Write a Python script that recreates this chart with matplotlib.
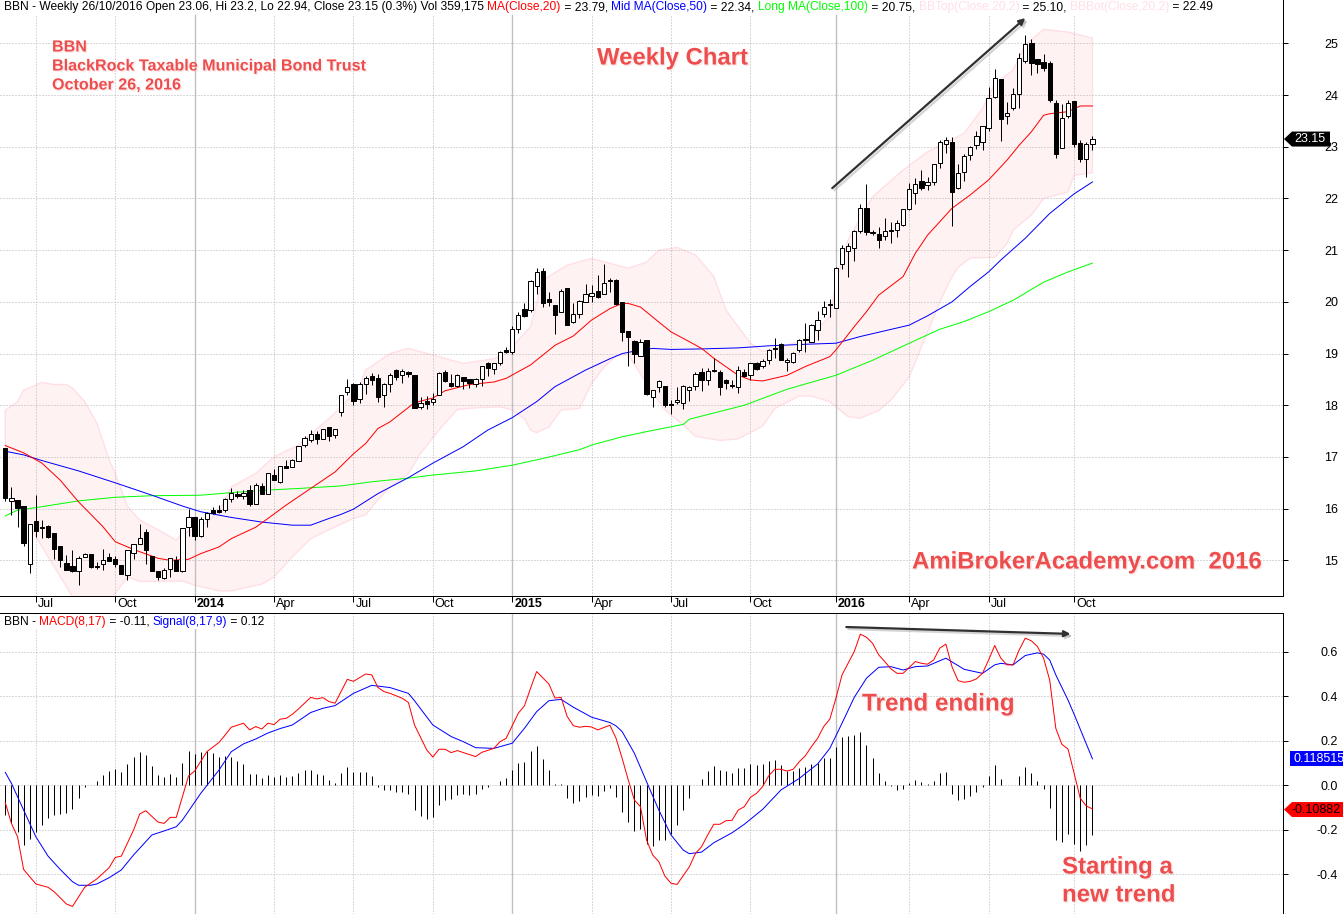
import matplotlib
matplotlib.use('Agg')
import matplotlib.pyplot as plt
import matplotlib.patheffects as pe
from matplotlib.patches import Polygon
from matplotlib.transforms import IdentityTransform
import numpy as np

W, H = 1343, 914
plt.rcParams['font.family'] = ['Liberation Sans', 'DejaVu Sans']

# weekly candles
opens = [17.18,16.14,16.16,16.05,14.92,15.76,15.64,15.66,15.52,15.27,14.94,14.89,14.79,15.06,15.13,14.9,14.92,15.06,15.02,14.91,
         14.71,15.15,15.31,15.55,15.08,14.8,14.66,14.84,15.0,14.8,15.65,15.84,15.48,15.79,15.97,15.97,15.97,16.19,16.29,16.24,
         16.37,16.09,16.44,16.29,16.65,16.51,16.82,16.81,16.93,17.24,17.33,17.44,17.34,17.57,17.43,17.87,18.26,18.42,18.12,18.42,
         18.56,18.52,18.2,18.42,18.69,18.58,18.65,18.58,17.96,18.09,18.07,18.2,18.65,18.44,18.38,18.54,18.5,18.41,18.5,18.81,
         18.7,18.82,19.06,19.04,19.48,19.87,19.85,20.3,20.59,20.05,19.93,19.81,20.26,19.61,19.77,20.0,20.12,20.22,20.16,20.43,
         20.43,20.0,19.43,19.24,18.96,19.26,18.16,18.36,18.37,18.02,18.06,18.04,18.29,18.38,18.64,18.48,18.68,18.64,18.49,18.4,
         18.35,18.64,18.58,18.81,18.75,18.87,19.11,19.18,18.83,18.84,19.06,19.27,19.23,19.46,19.76,19.95,19.89,20.73,20.98,21.05,
         21.38,21.81,21.33,21.31,21.27,21.39,21.4,21.48,21.79,22.1,22.34,22.27,22.32,22.69,23.05,23.09,22.21,22.52,22.85,23.04,
         23.1,23.37,23.97,24.32,23.6,23.75,24.03,24.66,25.0,24.69,24.65,24.63,23.84,22.97,23.6,23.88,23.08,22.77,23.06]
closes = [16.2,16.2,16.01,15.34,15.71,15.57,15.62,15.46,15.22,15.01,14.82,14.79,15.04,15.13,14.88,14.87,15.0,14.99,14.92,14.74,
          15.2,15.31,15.44,15.2,14.8,14.68,14.82,15.04,14.8,15.62,15.84,15.48,15.79,15.91,15.91,15.93,16.19,16.31,16.25,16.31,
          16.09,16.45,16.29,16.68,16.55,16.82,16.78,16.95,17.22,17.36,17.44,17.34,17.55,17.41,17.55,18.19,18.36,18.09,18.42,18.52,
          18.49,18.16,18.42,18.58,18.55,18.67,18.6,17.95,18.05,18.03,18.13,18.63,18.47,18.37,18.58,18.47,18.43,18.51,18.75,18.73,
          18.81,19.04,19.03,19.48,19.74,19.73,20.41,20.57,19.98,20.0,19.75,20.22,19.56,19.77,20.01,20.16,20.17,20.1,20.37,20.41,
          19.96,19.42,19.32,19.0,19.23,18.22,18.3,18.46,18.01,18.0,18.1,18.38,18.36,18.61,18.48,18.67,18.66,18.36,18.44,18.38,
          18.69,18.57,18.81,18.71,18.85,19.06,19.08,18.87,18.87,19.02,19.27,19.29,19.55,19.64,19.91,19.93,20.65,21.05,21.09,21.38,
          21.81,21.36,21.36,21.2,21.38,21.38,21.52,21.79,22.18,22.29,22.21,22.32,22.66,23.1,23.14,22.12,22.5,22.82,23.0,23.2,
          23.41,23.95,24.34,23.54,23.66,24.03,24.71,24.98,24.63,24.61,24.53,23.9,22.86,23.55,23.84,23.06,22.77,23.06,23.15]
highs = [17.18,16.41,16.16,16.05,15.71,16.26,15.78,15.68,15.52,15.27,15.11,15.2,15.08,15.15,15.13,14.97,15.21,15.15,15.09,14.91,
         15.2,15.31,15.7,15.6,15.08,14.8,14.86,15.05,15.08,15.62,15.99,15.84,15.83,15.94,16.04,16.07,16.2,16.39,16.35,16.37,
         16.45,16.49,16.49,16.68,16.76,16.82,16.94,16.97,17.22,17.4,17.52,17.5,17.55,17.57,17.55,18.19,18.5,18.43,18.45,18.56,
         18.63,18.61,18.43,18.62,18.71,18.71,18.67,18.58,18.16,18.18,18.23,18.65,18.69,18.61,18.6,18.54,18.5,18.53,18.75,18.83,
         18.82,19.05,19.12,19.53,19.8,19.98,20.43,20.65,20.66,20.2,19.93,20.24,20.26,19.98,20.03,20.34,20.32,20.52,20.73,20.47,
         20.45,20.0,19.43,19.27,19.29,19.26,18.3,18.49,18.37,18.1,18.36,18.4,18.37,18.65,18.73,18.73,18.91,18.69,18.5,18.49,
         18.75,18.71,18.81,18.84,18.89,19.08,19.3,19.2,18.91,19.04,19.29,19.6,19.57,19.83,20.02,20.06,20.67,21.1,21.13,21.39,
         21.89,22.29,21.39,21.45,21.62,21.55,21.58,21.79,22.3,22.39,22.55,22.42,22.66,23.13,23.18,23.18,22.66,22.86,23.01,23.3,
         23.41,24.15,24.5,24.32,23.86,24.13,24.81,25.17,25.08,24.69,24.79,24.66,23.9,23.83,23.9,23.88,23.13,23.1,23.2]
lows = [16.15,15.88,15.65,15.28,14.76,15.46,15.44,15.44,15.02,14.88,14.82,14.78,14.53,15.06,14.86,14.84,14.81,14.99,14.88,14.74,
        14.62,15.03,15.31,14.92,14.8,14.62,14.64,14.68,14.8,14.78,15.47,15.4,15.46,15.65,15.89,15.91,15.94,16.13,16.2,16.18,
        16.05,16.09,16.28,16.29,16.55,16.5,16.78,16.8,16.93,17.2,17.29,17.26,17.34,17.3,17.37,17.8,18.19,18.0,18.05,18.22,
        18.4,18.07,17.97,18.25,18.49,18.43,18.55,17.94,17.93,17.93,18.0,18.19,18.45,18.36,18.36,18.32,18.34,18.36,18.38,18.56,
        18.6,18.78,19.01,19.0,19.4,19.71,19.8,20.15,19.9,19.92,19.38,19.8,19.56,19.59,19.68,20.0,20.0,20.08,20.15,20.19,
        19.94,19.25,18.76,18.81,18.96,18.2,17.97,18.26,17.97,17.84,18.02,17.93,18.09,18.29,18.28,18.39,18.65,18.2,18.32,18.33,
        18.23,18.55,18.48,18.69,18.73,18.8,18.91,18.87,18.66,18.81,19.04,19.04,19.22,19.26,19.71,19.71,19.89,20.63,20.49,20.8,
        21.34,21.29,21.29,21.05,21.2,21.14,21.26,21.47,21.78,21.9,22.16,22.16,22.26,22.59,22.88,21.47,22.19,22.34,22.75,22.95,
        22.94,23.31,23.95,23.12,23.44,23.72,23.75,24.62,24.39,24.43,24.47,23.87,22.79,22.97,23.55,23.0,22.7,22.42,22.94]

ma20_i = [0,3,6,9,12,16,18,21,25,27,30,32,35,37,41,43,46,50,54,57,59,61,63,67,70,72,76,80,82,86,88,90,93,96,99,101,102,104,107,109,112,114,116,120,122,124,128,131,135,136,139,141,143,147,149,151,154,155,158,161,164,166,168,170,171,174,176,178]
ma20 = [17.22,17.08,16.88,16.55,16.13,15.65,15.36,15.21,15.04,15.0,15.02,15.13,15.26,15.42,15.64,15.81,16.07,16.39,16.71,17.06,17.26,17.55,17.68,18.05,18.14,18.28,18.4,18.45,18.52,18.78,18.97,19.16,19.34,19.65,19.87,19.97,19.97,19.9,19.61,19.42,19.23,19.1,18.91,18.58,18.49,18.47,18.58,18.75,18.94,19.07,19.52,19.81,20.13,20.49,20.94,21.29,21.68,21.81,22.07,22.36,22.74,23.03,23.29,23.61,23.64,23.68,23.79,23.79]
ma50_i = [0,3,6,12,18,24,29,32,37,42,47,50,53,55,57,61,66,70,75,79,83,87,90,95,99,101,104,106,109,114,120,125,131,136,140,144,148,151,155,158,161,163,167,171,175,178]
ma50 = [17.11,17.04,16.93,16.73,16.5,16.26,16.05,15.94,15.83,15.74,15.68,15.68,15.81,15.89,15.99,16.29,16.6,16.88,17.2,17.52,17.76,18.07,18.36,18.68,18.9,19.0,19.07,19.1,19.08,19.09,19.11,19.15,19.18,19.2,19.33,19.44,19.55,19.73,20.0,20.3,20.58,20.81,21.23,21.71,22.09,22.32]
ma100_i = [0,2,5,12,18,24,32,37,43,48,55,60,66,70,77,83,88,94,96,101,105,111,112,121,128,136,142,148,153,157,161,165,170,174,178]
ma100 = [15.86,15.97,16.02,16.15,16.22,16.25,16.26,16.31,16.36,16.39,16.44,16.52,16.59,16.65,16.73,16.84,16.97,17.14,17.23,17.39,17.49,17.63,17.73,18.0,18.31,18.58,18.87,19.2,19.47,19.62,19.81,20.03,20.38,20.58,20.75]
bbtop_i = [0,2,3,5,6,8,10,11,13,15,17,18,20,22,25,28,29,32,35,37,41,44,48,50,53,55,58,59,63,66,70,75,80,82,86,88,92,96,102,105,107,110,113,116,118,122,124,131,135,136,138,142,147,151,157,160,162,165,167,170,174,176,178]
bbtop = [17.9,18.07,18.29,18.39,18.44,18.4,18.4,18.33,18.07,17.65,16.95,16.68,16.04,15.78,15.59,15.39,15.52,15.65,15.94,16.42,16.68,17.0,17.23,17.44,17.74,17.97,18.36,18.68,19.0,19.1,18.97,18.81,18.9,19.0,19.52,20.42,20.71,20.84,20.65,20.77,21.0,21.05,20.91,20.49,19.84,19.2,19.04,19.26,19.71,20.36,21.2,22.03,22.55,22.9,23.26,23.74,24.22,24.48,24.97,25.27,25.22,25.16,25.1]
bbbot_i = [0,2,5,8,11,13,16,18,20,22,29,31,35,37,42,44,47,50,54,57,59,61,63,66,68,71,74,77,81,83,85,86,87,89,91,94,96,98,100,102,105,108,111,113,117,120,124,126,130,132,135,138,140,143,145,148,150,152,153,155,156,158,162,164,165,168,170,174,175,178]
bbbot = [16.43,16.0,15.46,14.88,14.3,14.1,14.05,14.36,14.68,14.59,14.6,14.52,14.41,14.41,14.54,14.68,15.07,15.42,15.65,15.81,15.88,16.17,16.42,16.68,17.07,17.52,17.92,17.95,17.97,17.91,17.74,17.52,17.47,17.58,17.91,17.94,18.42,18.74,18.95,18.98,18.42,17.91,17.62,17.4,17.32,17.35,17.6,17.94,18.18,18.18,18.07,17.78,17.75,17.9,18.1,18.55,19.13,19.7,20.0,20.49,20.67,20.85,20.86,21.13,21.39,21.68,22.0,22.13,22.45,22.5]

macd_i = [0,1,2,3,5,7,8,10,11,13,15,17,18,19,21,22,23,25,26,27,28,29,30,31,33,35,36,37,39,40,41,42,43,44,45,46,47,48,50,51,52,53,54,56,57,59,60,61,62,63,65,66,67,69,70,71,72,
          73,74,77,78,80,81,82,84,85,86,87,89,90,91,92,93,94,95,96,97,99,100,101,102,103,104,105,106,107,108,109,110,112,113,114,115,116,117,118,119,120,121,122,123,124,125,126,127,128,129,130,131,132,133,134,135,136,137,139,140,141,142,143,144,145,146,
          147,149,150,151,152,153,154,155,156,157,158,159,160,161,162,163,164,165,166,167,168,169,170,171,172,173,174,175,176,177,178]
macd = [-0.078,-0.171,-0.231,-0.378,-0.443,-0.458,-0.478,-0.533,-0.544,-0.458,-0.42,-0.37,-0.324,-0.318,-0.201,-0.129,-0.114,-0.165,-0.171,-0.144,-0.144,-0.051,0.042,0.064,0.151,0.193,0.226,0.261,0.279,0.249,0.264,0.253,0.279,0.273,0.297,0.301,0.319,0.343,0.395,0.388,0.394,0.376,0.369,0.476,0.467,0.5,0.496,0.44,0.421,0.413,0.391,0.372,0.271,0.159,0.127,0.162,0.162,
        0.147,0.156,0.129,0.148,0.166,0.196,0.211,0.324,0.357,0.436,0.511,0.455,0.392,0.395,0.309,0.268,0.261,0.265,0.262,0.249,0.27,0.211,0.121,0.024,-0.066,-0.096,-0.246,-0.313,-0.343,-0.408,-0.44,-0.445,-0.366,-0.306,-0.276,-0.223,-0.175,-0.175,-0.159,-0.157,-0.111,-0.096,-0.054,-0.036,-0.006,0.043,0.072,0.072,0.064,0.072,0.106,0.133,0.174,0.211,0.264,0.297,0.391,0.496,0.601,0.679,0.665,0.638,0.586,0.556,0.523,0.503,
        0.503,0.556,0.548,0.544,0.563,0.616,0.634,0.533,0.47,0.463,0.467,0.478,0.503,0.563,0.628,0.571,0.541,0.541,0.608,0.661,0.649,0.623,0.571,0.473,0.256,0.184,0.163,0.054,-0.058,-0.093,-0.106]
signal_i = [0,1,3,5,7,9,11,12,14,15,17,19,21,23,24,26,28,29,32,35,37,39,41,43,45,47,50,52,54,57,60,63,66,67,70,73,
            75,77,80,83,85,87,89,91,93,96,99,100,101,103,105,107,109,111,112,114,116,119,121,124,127,130,133,135,137,139,141,143,145,
            147,149,151,154,157,160,162,163,165,167,169,170,171,172,174,175,178]
signal = [0.058,0.009,-0.111,-0.231,-0.318,-0.378,-0.433,-0.449,-0.449,-0.443,-0.415,-0.38,-0.313,-0.253,-0.223,-0.205,-0.186,-0.156,-0.036,0.069,0.151,0.186,0.208,0.235,0.255,0.271,0.327,0.346,0.358,0.413,0.449,0.439,0.413,0.38,0.271,0.219,
          0.196,0.169,0.166,0.189,0.256,0.331,0.38,0.386,0.351,0.306,0.282,0.267,0.241,0.144,0.016,-0.111,-0.223,-0.291,-0.307,-0.3,-0.258,-0.213,-0.175,-0.108,-0.021,0.031,0.096,0.166,0.279,0.395,0.481,0.53,0.533,
          0.518,0.533,0.536,0.571,0.521,0.503,0.541,0.548,0.541,0.583,0.595,0.589,0.563,0.496,0.383,0.319,0.119]
hist = [-0.133,-0.168,-0.208,-0.268,-0.241,-0.208,-0.178,-0.147,-0.133,-0.129,-0.123,-0.106,-0.058,-0.006,0.001,0.019,0.045,0.064,0.073,0.06,
        0.096,0.127,0.15,0.136,0.087,0.046,0.037,0.051,0.037,0.1,0.154,0.141,0.15,0.154,0.147,0.127,0.132,0.127,0.109,0.096,
        0.051,0.051,0.033,0.046,0.037,0.046,0.037,0.042,0.055,0.069,0.069,0.051,0.046,0.024,0.01,0.055,0.082,0.061,0.06,0.06,
        0.042,-0.006,-0.021,-0.021,-0.03,-0.03,-0.039,-0.111,-0.138,-0.151,-0.142,-0.088,-0.066,-0.06,-0.043,-0.039,-0.042,-0.039,-0.016,-0.006,
        0.001,0.019,0.033,0.069,0.1,0.105,0.154,0.177,0.118,0.069,0.006,0.006,-0.057,-0.079,-0.07,-0.052,-0.043,-0.048,-0.025,-0.012,
        -0.052,-0.12,-0.165,-0.205,-0.196,-0.264,-0.273,-0.246,-0.246,-0.219,-0.178,-0.111,-0.057,0.001,0.028,0.064,0.087,0.069,0.064,0.055,
        0.078,0.078,0.096,0.091,0.096,0.109,0.114,0.091,0.064,0.064,0.078,0.082,0.096,0.1,0.123,0.123,0.172,0.217,0.222,0.226,
        0.24,0.181,0.123,0.055,0.019,-0.003,-0.021,-0.016,0.009,0.024,0.015,0.006,0.019,0.055,0.06,-0.039,-0.066,-0.061,-0.048,-0.03,
        -0.009,0.042,0.091,0.028,0.001,0.002,0.042,0.082,0.055,0.019,-0.016,-0.102,-0.246,-0.255,-0.219,-0.264,-0.295,-0.268,-0.223]

month_i = [5,18,31,44,57,70,83,96,109,122,136,148,161,175]
month_lbl = ['Jul','Oct','2014','Apr','Jul','Oct','2015','Apr','Jul','Oct','2016','Apr','Jul','Oct']
price_ticks = [15,16,17,18,19,20,21,22,23,24,25]
macd_ticks = [-0.4,-0.2,0.0,0.2,0.4,0.6]

up_arrow = ((135.4,22.2),(167,25.49))
flat_arrow = ((137.7,0.711),(174.4,0.68))

BLUE, RED, LIME = '#0000ff', '#ff0000', '#00ff00'
PINK = '#ffdfe6'
NOTE = '#ee4d4d'
GRID = '#b4b4b4'
THIN = 0.72
CURVE = 0.72

def fx(x): return x/W
def fy(y): return 1-y/H

fig = plt.figure(figsize=(W/100,H/100), dpi=100)
ax = fig.add_axes([0, fy(596), fx(1283), 596/H])
ax2 = fig.add_axes([0, 0, fx(1283), (914-613)/H])
xlim = (-0.868, 209.2)
ax.set_xlim(*xlim)
ax2.set_xlim(*xlim)
ax.set_ylim(14.31, 25.84)
ax2.set_ylim(-0.578, 0.774)

xs = np.arange(len(closes))

for a, top in ((ax, 1-15/596), (ax2, 1.0)):
    for i, lbl in zip(month_i, month_lbl):
        year = lbl.startswith('20')
        a.axvline(i, ymax=top, color='#c0c0c0' if year else GRID, lw=1.0 if year else THIN,
                  ls='-' if year else (0,(1,2)), zorder=1.5)
    for s in ('left','top'):
        a.spines[s].set_visible(False)
    a.spines['right'].set_linewidth(THIN)
    a.spines['bottom'].set_linewidth(THIN)
    a.yaxis.tick_right()
    a.tick_params(axis='y', length=3.6, width=THIN, pad=0, labelsize=9)
ax2.spines['bottom'].set_visible(False)
ax2.spines['top'].set_visible(True)
ax2.spines['top'].set_linewidth(THIN)

for p in price_ticks:
    ax.axhline(p, color=GRID, lw=THIN, ls=(0,(1,2)), zorder=1.5)
for q in macd_ticks:
    ax2.axhline(q, color=GRID, lw=THIN, ls=(0,(1,2)), zorder=1.5)

# bollinger band
band = np.column_stack([bbtop_i + bbbot_i[::-1], bbtop + bbbot[::-1]])
ax.add_patch(Polygon(band, closed=True, facecolor='#fff2f3', edgecolor=PINK, lw=1.0, zorder=1))

ax.plot(ma100_i, ma100, color=LIME, lw=CURVE, zorder=2)
ax.plot(ma50_i, ma50, color=BLUE, lw=CURVE, zorder=2)
ax.plot(ma20_i, ma20, color=RED, lw=CURVE, zorder=2)

# candles
ax.vlines(xs, lows, highs, color='k', lw=THIN, zorder=3)
o = np.array(opens)
c = np.array(closes)
ax.bar(xs, np.abs(c-o), bottom=np.minimum(o,c), width=0.7,
       color=['white' if cc >= oo else 'black' for oo, cc in zip(o,c)],
       edgecolor='k', lw=THIN, zorder=4)

ax.set_yticks(price_ticks)
ax.set_yticklabels([str(p) for p in price_ticks])
ax.set_xticks(month_i)
ax.set_xticklabels([])
ax.tick_params(axis='x', length=4.3, width=THIN, top=False)
ax2.set_xticks([])
ax2.set_yticks(macd_ticks)
ax2.set_yticklabels(['%.1f' % q for q in macd_ticks])

for a in (ax, ax2):
    for t in a.get_yticklabels():
        t.set_ha('right')
        t.set_x(1.0 + (1333-1283)/1283)
        t.set_fontsize(9)

for i, lbl in zip(month_i, month_lbl):
    px = ax.transData.transform((i, 0))[0]
    fig.text(fx(px+2), fy(604), lbl, fontsize=9, va='center', ha='left',
             fontweight='bold' if lbl.startswith('20') else 'normal')

# macd panel
ax2.vlines(xs, 0, hist, color='k', lw=THIN, zorder=2)
ax2.plot(signal_i, signal, color=BLUE, lw=CURVE, zorder=3)
ax2.plot(macd_i, macd, color=RED, lw=CURVE, zorder=3)

# drawn arrows with their soft shadow
for a, (start, end) in ((ax, up_arrow), (ax2, flat_arrow)):
    a.annotate('', xy=end, xytext=start, zorder=5,
               arrowprops=dict(arrowstyle='-|>', color='#303030', lw=1.6, mutation_scale=9, shrinkA=0, shrinkB=0,
                               path_effects=[pe.SimpleLineShadow(offset=(1.5,-1.5), shadow_color='#a0a0a0', alpha=0.45), pe.Normal()]))

renderer = fig.canvas.get_renderer()

def text_width(s, size):
    t = fig.text(0, 0, '.'+s+'.', fontsize=size)
    w = t.get_window_extent(renderer).width
    t.set_text('..')
    w -= t.get_window_extent(renderer).width
    t.remove()
    return w

def header(x, y, parts, size):
    for s, col in parts:
        fig.text(fx(x), fy(y), s, color=col, fontsize=size, va='center', ha='left',
                 bbox=dict(facecolor='white', edgecolor='none', pad=0.5), zorder=10)
        x += text_width(s, size)

header(4, 7, [('BBN - Weekly 26/10/2016 Open 23.06, Hi 23.2, Lo 22.94, Close 23.15 (0.3%) Vol 359,175 ', 'k'),
              ('MA(Close,20)', RED), (' = 23.79, ', 'k'),
              ('Mid MA(Close,50)', BLUE), (' = 22.34, ', 'k'),
              ('Long MA(Close,100)', LIME), (' = 20.75, ', 'k'),
              ('BBTop(Close,20,2)', PINK), (' = 25.10, ', 'k'),
              ('BBBot(Close,20,2)', PINK), (' = 22.49', 'k')], 8.68)
header(4, 622, [('BBN - ', 'k'), ('MACD(8,17)', RED), (' = -0.11, ', 'k'),
                ('Signal(8,17,9)', BLUE), (' = 0.12', 'k')], 8.68)

# notes typed on the chart
shadow = [pe.withSimplePatchShadow(offset=(1,-1), shadow_rgbFace='#f4a0a0', alpha=0.25)]
notes = [(52,47,'BBN',11.6), (52,66,'BlackRock Taxable Municipal Bond Trust',11.6), (52,85,'October 26, 2016',11.6),
         (597,58,'Weekly Chart',17.2), (912,562,'AmiBrokerAcademy.com  2016',17.25),
         (862,704,'Trend ending',17.5), (1062,867,'Starting a',17.3), (1062,895,'new trend',17.3)]
for x, y, s, size in notes:
    fig.text(fx(x), fy(y), s, color=NOTE, fontsize=size, fontweight='bold', va='center', ha='left', path_effects=shadow, zorder=9)

# value tags on the axis
def tag(a, val, txt, face, col, x0, pointed, x1, inset):
    y = a.transData.transform((0, val))[1]
    if pointed:
        pts = [(x0,y),(x0+8,y+7.5),(x1,y+7.5),(x1,y-7.5),(x0+8,y-7.5)]
    else:
        pts = [(x0,y+7.5),(x1,y+7.5),(x1,y-7.5),(x0,y-7.5)]
    fig.add_artist(Polygon(pts, closed=True, facecolor=face, edgecolor='none', transform=IdentityTransform(), zorder=11))
    fig.text(fx(x0+inset), y/H, txt, color=col, fontsize=9, va='center', ha='left', zorder=12)

tag(ax, 23.15, '23.15', 'k', 'w', 1284, True, 1330, 10)
tag(ax2, 0.1185, '0.118515', BLUE, 'w', 1290, False, W, 4)
tag(ax2, -0.1088, '-0.10882', RED, 'k', 1284, True, W, 8)

fig.savefig('out.png', dpi=100)
